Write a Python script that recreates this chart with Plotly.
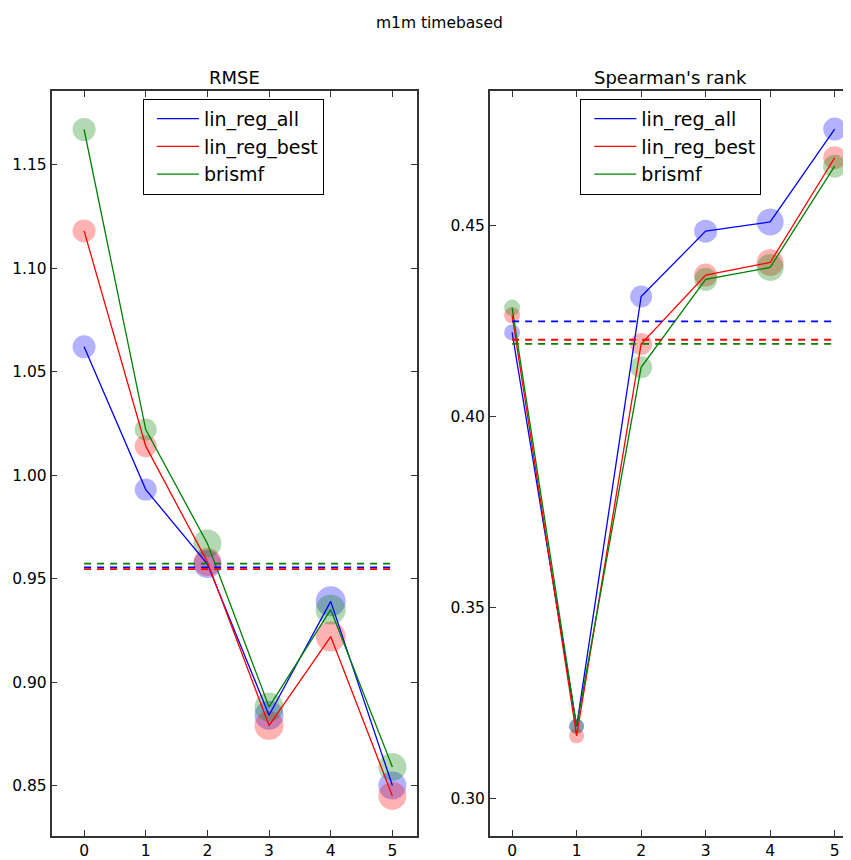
import plotly.graph_objects as go

# ---------------- data ----------------
folds = [0, 1, 2, 3, 4, 5]
series_names = ["lin_reg_all", "lin_reg_best", "brismf"]

rmse_lin_reg_all = [1.062, 0.993, 0.957, 0.884, 0.939, 0.850]
rmse_lin_reg_best = [1.118, 1.014, 0.958, 0.879, 0.922, 0.845]
rmse_brismf = [1.167, 1.022, 0.967, 0.888, 0.935, 0.859]
rmse_reference = [0.9554, 0.9546, 0.9572]

spearman_lin_reg_all = [0.422, 0.319, 0.4314, 0.4485, 0.4509, 0.4752]
spearman_lin_reg_best = [0.4265, 0.3165, 0.419, 0.437, 0.4403, 0.4677]
spearman_brismf = [0.4285, 0.319, 0.4129, 0.4359, 0.439, 0.4655]
spearman_reference = [0.4249, 0.4201, 0.419]

rmse_fold_weight = [23, 22, 28, 29, 30, 28]
spearman_fold_weight = [16, 15, 22, 23, 27, 23]

rmse_ticks = [0.85, 0.90, 0.95, 1.00, 1.05, 1.10, 1.15]
spearman_ticks = [0.30, 0.35, 0.40, 0.45]

# ---------------- styling ----------------
OFF = 8                       # page body margin of the browser
W, H = 851 - OFF, 860 - OFF   # figure size so that page fits the window
colors = ["#0000ff", "#ff0000", "#008000"]
FONT = "DejaVu Sans"
frame_col = "#333333"

def px_x(p):
    return (p - OFF) / W

def px_y(p):
    return 1 - (p - OFF) / H

fig = go.Figure()

panels = [
    dict(xa="x", ya="y", vals=[rmse_lin_reg_all, rmse_lin_reg_best, rmse_brismf],
         ref=rmse_reference, w=rmse_fold_weight, legend="legend"),
    dict(xa="x2", ya="y2", vals=[spearman_lin_reg_all, spearman_lin_reg_best, spearman_brismf],
         ref=spearman_reference, w=spearman_fold_weight, legend="legend2"),
]

for p in panels:
    # circles (under lines)
    for vals, c in zip(p["vals"], colors):
        fig.add_trace(go.Scatter(
            x=folds, y=vals, mode="markers", xaxis=p["xa"], yaxis=p["ya"],
            marker=dict(size=p["w"], color=c, opacity=0.3, line=dict(width=0)),
            showlegend=False, hoverinfo="skip"))
    # solid lines
    for vals, c, name in zip(p["vals"], colors, series_names):
        fig.add_trace(go.Scatter(
            x=folds, y=vals, mode="lines", name=name, xaxis=p["xa"], yaxis=p["ya"],
            line=dict(color=c, width=1.3), legend=p["legend"], showlegend=True))
    # dashed reference lines
    for r, c in zip(p["ref"], colors):
        fig.add_trace(go.Scatter(
            x=[folds[0], folds[-1]], y=[r, r], mode="lines", xaxis=p["xa"], yaxis=p["ya"],
            line=dict(color=c, width=1.8, dash="7px,6px"), showlegend=False, hoverinfo="skip"))

axis_common = dict(
    showline=True, linecolor=frame_col, linewidth=1.6, mirror="allticks",
    ticks="inside", ticklen=6, tickwidth=1, tickcolor=frame_col,
    showgrid=False, zeroline=False,
    tickfont=dict(family=FONT, size=15.5, color="black"),
)

legend_common = dict(
    xanchor="left", yanchor="top",
    bordercolor="black", borderwidth=1, bgcolor="white",
    font=dict(family=FONT, size=19, color="black"),
    itemwidth=42, indentation=8, tracegroupgap=0,
)

fig.update_layout(
    width=W, height=H,
    margin=dict(l=0, r=0, t=0, b=0),
    paper_bgcolor="white", plot_bgcolor="white",
    font=dict(family=FONT, color="black"),
    xaxis=dict(domain=[px_x(51.7), px_x(417.7)], range=[-0.527, 5.395],
               tickvals=folds, anchor="y", **axis_common),
    yaxis=dict(domain=[px_y(838), px_y(91)], range=[0.8256, 1.1857],
               tickvals=rmse_ticks, tickformat=".2f", anchor="x", **axis_common),
    xaxis2=dict(domain=[px_x(491), 1.0], range=[-0.345, 5.222],
                tickvals=folds, anchor="y2", **axis_common),
    yaxis2=dict(domain=[px_y(838), px_y(91)], range=[0.2903, 0.4852],
                tickvals=spearman_ticks, tickformat=".2f", anchor="x2", **axis_common),
    legend=dict(x=px_x(143.3), y=px_y(99), **legend_common),
    legend2=dict(x=px_x(581.7), y=px_y(99), **legend_common),
    annotations=[
        dict(text="m1m timebased", x=px_x(441), y=px_y(23.5), xref="paper", yref="paper",
             xanchor="center", yanchor="middle", showarrow=False,
             font=dict(family=FONT, size=15.5, color="black")),
        dict(text="RMSE", x=px_x(234.7), y=px_y(78), xref="paper", yref="paper",
             xanchor="center", yanchor="middle", showarrow=False,
             font=dict(family=FONT, size=18, color="black")),
        dict(text="Spearman's rank", x=px_x(672), y=px_y(78), xref="paper", yref="paper",
             xanchor="center", yanchor="middle", showarrow=False,
             font=dict(family=FONT, size=18, color="black")),
    ],
)

fig.write_html("out.html")
